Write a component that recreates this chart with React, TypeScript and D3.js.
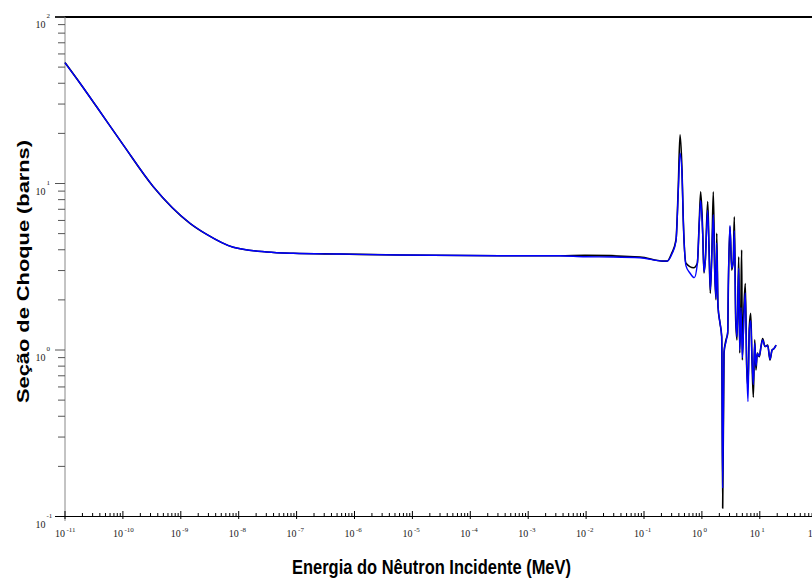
import * as d3 from "d3";

// Low-energy region, where both evaluations coincide (MeV, barns)
const lowEnergy = [1e-11, 1.82e-11, 3.52e-11, 1.02e-10, 3.35e-10, 1.44e-9, 2.8e-9, 8.07e-9, 3.05e-8, 8.8e-8, 5.6e-7, 6.1e-6, 3.26e-4, 3.54e-3];
const lowSigma = [53.2, 40.0, 28.9, 17.0, 9.57, 5.77, 4.95, 4.14, 3.88, 3.81, 3.77, 3.72, 3.68, 3.68];

// Resonance region, black curve
const blackEnergy = [9.6e-3, 0.0853, 0.213, 0.251, 0.301, 0.357, 0.391, 0.419, 0.453, 0.477, 0.531, 0.72, 0.834, 0.902, 0.953, 1.03, 1.087, 1.145, 1.259, 1.327, 1.397, 1.494, 1.574, 1.663, 1.754, 1.803, 1.897, 2.056, 2.198, 2.286, 2.41, 2.606, 2.793, 2.858, 3.055, 3.273, 3.483, 3.631, 3.837, 4.04, 4.325, 4.5, 4.73, 4.86, 4.99, 5.33, 5.62, 5.94, 6.25, 6.59, 6.97, 7.33, 7.73, 8.17, 8.59, 9.06, 9.8, 10.5, 11.2, 12.3, 13.7, 15.0, 16.3, 17.6, 19.1];
const blackSigma = [3.7, 3.62, 3.42, 3.42, 3.81, 4.58, 9.57, 19.6, 12.05, 6.04, 3.32, 3.12, 3.32, 6.04, 8.93, 5.26, 2.9, 3.47, 7.78, 4.17, 2.19, 4.17, 8.93, 3.02, 2.0, 5.02, 1.82, 1.45, 1.2, 0.112, 0.96, 1.15, 1.26, 2.29, 5.5, 3.02, 3.47, 6.32, 1.51, 1.15, 3.63, 0.96, 2.0, 3.99, 0.87, 1.82, 2.51, 0.79, 0.6, 1.38, 1.66, 0.87, 0.52, 1.15, 0.76, 0.96, 0.91, 1.05, 1.17, 1.05, 1.07, 0.87, 1.0, 1.02, 1.07];

// Resonance region, blue curve
const blueEnergy = [9.6e-3, 0.0292, 0.0853, 0.213, 0.251, 0.301, 0.357, 0.391, 0.419, 0.453, 0.477, 0.531, 0.622, 0.739, 0.834, 0.902, 0.953, 1.03, 1.087, 1.145, 1.259, 1.327, 1.397, 1.494, 1.574, 1.663, 1.754, 1.803, 1.897, 2.056, 2.198, 2.286, 2.41, 2.606, 2.793, 2.858, 3.055, 3.273, 3.483, 3.631, 3.837, 4.04, 4.325, 4.5, 4.73, 4.99, 5.33, 5.62, 5.94, 6.25, 6.59, 6.97, 7.33, 7.73, 8.17, 8.59, 9.06, 9.8, 10.5, 11.2, 12.3, 13.7, 15.0, 16.3, 17.6, 19.1];
const blueSigma = [3.63, 3.62, 3.58, 3.42, 3.42, 3.75, 4.5, 9.0, 15.2, 11.5, 6.0, 3.2, 2.9, 2.72, 3.3, 5.8, 7.9, 5.0, 2.95, 3.4, 6.9, 4.0, 2.3, 4.0, 6.5, 3.0, 2.05, 4.4, 1.85, 1.45, 1.2, 0.148, 0.98, 1.12, 1.3, 2.4, 5.6, 3.1, 3.4, 5.2, 1.6, 1.2, 3.1, 1.0, 1.8, 0.9, 1.6, 2.2, 0.8, 0.49, 1.3, 1.5, 0.9, 0.62, 1.1, 0.8, 0.95, 0.92, 1.05, 1.15, 1.05, 1.06, 0.88, 1.0, 1.02, 1.07];

const xTickExponents = [-11, -10, -9, -8, -7, -6, -5, -4, -3, -2, -1, 0, 1, 2];
const yTickExponents = [-1, 0, 1, 2];
const minorMultipliers = [2, 3, 4, 5, 6, 7, 8, 9];

const W = 812;
const H = 583;

export default function App() {
  const x = d3.scaleLog().domain([1e-11, 1e2]).range([65, 817.7]);
  const y = d3.scaleLog().domain([0.1, 100]).range([516.5, 17]);

  const toPts = (es: number[], ss: number[]) => es.map((e, i) => [e, ss[i]] as [number, number]);
  const blackPts = [...toPts(lowEnergy, lowSigma), ...toPts(blackEnergy, blackSigma)];
  const bluePts = [...toPts(lowEnergy, lowSigma), ...toPts(blueEnergy, blueSigma)];

  const line = d3
    .line<[number, number]>()
    .x((d) => x(d[0]))
    .y((d) => y(d[1]))
    .curve(d3.curveMonotoneX);

  const xMinor: number[] = [];
  xTickExponents.slice(0, -1).forEach((e) => minorMultipliers.forEach((m) => xMinor.push(m * Math.pow(10, e))));
  const yMinor: number[] = [];
  yTickExponents.slice(0, -1).forEach((e) => minorMultipliers.forEach((m) => yMinor.push(m * Math.pow(10, e))));

  const tickFont = "'Liberation Serif', 'DejaVu Serif', serif";

  return (
    <div>
      <style>{`body{margin:0;overflow:hidden}`}</style>
      <svg width={W} height={H} style={{ display: "block", background: "#fff" }}>
        {/* top frame line */}
        <line x1={55} x2={W} y1={17} y2={17} stroke="#000" strokeWidth={2} />
        {/* y axis */}
        <line x1={65} x2={65} y1={17} y2={521} stroke="#888" strokeWidth={1} />
        {yMinor.map((v, i) => (
          <line key={"ym" + i} x1={58} x2={65} y1={y(v)} y2={y(v)} stroke="#555" strokeWidth={1} />
        ))}
        {yTickExponents.map((e) => (
          <g key={"yt" + e}>
            <line x1={55} x2={65} y1={y(Math.pow(10, e))} y2={y(Math.pow(10, e))} stroke="#555" strokeWidth={1} />
            <text x={45.5} y={y(Math.pow(10, e)) + 11} textAnchor="end" fontFamily={tickFont} fontSize={10} fill="#222">
              10
            </text>
            <text x={46.5} y={y(Math.pow(10, e)) + 1} fontFamily={tickFont} fontSize={7} fill="#222">
              {e}
            </text>
          </g>
        ))}
        {/* x axis */}
        <line x1={55} x2={W} y1={516.5} y2={516.5} stroke="#000" strokeWidth={1.2} />
        {xMinor.map((v, i) => (
          <line key={"xm" + i} x1={x(v)} x2={x(v)} y1={513} y2={516.5} stroke="#000" strokeWidth={1} />
        ))}
        {xTickExponents.map((e) => (
          <g key={"xt" + e}>
            <line x1={x(Math.pow(10, e))} x2={x(Math.pow(10, e))} y1={511} y2={519} stroke="#000" strokeWidth={1} />
            <text x={x(Math.pow(10, e))} y={537} textAnchor="end" fontFamily={tickFont} fontSize={10} fill="#222">
              10
            </text>
            <text x={x(Math.pow(10, e)) + 1.5} y={532} fontFamily={tickFont} fontSize={7} fill="#222">
              {e}
            </text>
          </g>
        ))}
        {/* data */}
        <path d={line(blackPts) || ""} fill="none" stroke="#000" strokeWidth={1.6} strokeLinejoin="round" />
        <path d={line(bluePts) || ""} fill="none" stroke="#0000ff" strokeWidth={1.4} strokeLinejoin="round" />
        {/* titles */}
        <text
          transform="translate(28.5,271.5) rotate(-90)"
          textAnchor="middle"
          fontFamily="'Liberation Sans', Arial, sans-serif"
          fontWeight="bold"
          fontSize={17}
          textLength={263}
          lengthAdjust="spacingAndGlyphs"
          fill="#000"
        >
          Seção de Choque (barns)
        </text>
        <text
          x={431.5}
          y={574}
          textAnchor="middle"
          fontFamily="'Liberation Sans Narrow', 'Arial Narrow', 'Liberation Sans', sans-serif"
          fontWeight="bold"
          fontSize={21}
          textLength={279}
          lengthAdjust="spacingAndGlyphs"
          fill="#000"
        >
          Energia do Nêutron Incidente (MeV)
        </text>
      </svg>
    </div>
  );
}
